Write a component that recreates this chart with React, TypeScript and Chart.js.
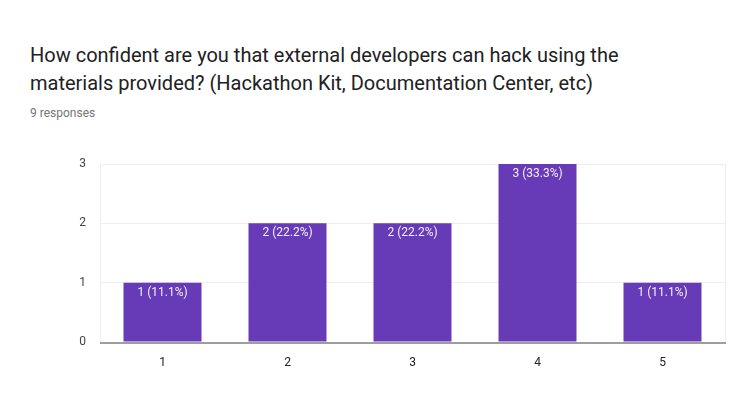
import React, { useEffect, useRef } from "react";
import { Chart, registerables } from "chart.js";

Chart.register(...registerables);

const categories = ["1", "2", "3", "4", "5"];
const counts = [1, 2, 2, 3, 1];
const percentLabels = ["11.1%", "22.2%", "22.2%", "33.3%", "11.1%"];
const yTicks = [0, 1, 2, 3];
const titleLines = [
  "How confident are you that external developers can hack using the",
  "materials provided? (Hackathon Kit, Documentation Center, etc)",
];
const subtitle = "9 responses";

const FONT = "Roboto, Arial, sans-serif";

const barLabelPlugin = {
  id: "barLabels",
  afterDatasetsDraw(chart: any) {
    const ctx = chart.ctx;
    const meta = chart.getDatasetMeta(0);
    ctx.save();
    ctx.fillStyle = "#f4f0fa";
    ctx.font = `12px ${FONT}`;
    ctx.textAlign = "center";
    ctx.textBaseline = "top";
    meta.data.forEach((bar: any, i: number) => {
      ctx.fillText(`${counts[i]} (${percentLabels[i]})`, bar.x, bar.y + 4);
    });
    ctx.restore();
  },
};

const framePlugin = {
  id: "frame",
  beforeDatasetsDraw(chart: any) {
    const { ctx, chartArea } = chart;
    ctx.save();
    ctx.strokeStyle = "#eeeeee";
    ctx.lineWidth = 1;
    ctx.beginPath();
    ctx.moveTo(chartArea.right + 0.5, chartArea.top);
    ctx.lineTo(chartArea.right + 0.5, chartArea.bottom);
    ctx.stroke();
    ctx.restore();
  },
  afterDatasetsDraw(chart: any) {
    const { ctx, chartArea } = chart;
    ctx.save();
    ctx.strokeStyle = "#9e9e9e";
    ctx.lineWidth = 2;
    ctx.beginPath();
    ctx.moveTo(chartArea.left, chartArea.bottom + 1);
    ctx.lineTo(chartArea.right + 1, chartArea.bottom + 1);
    ctx.stroke();
    ctx.restore();
  },
};

export default function App() {
  const ref = useRef<HTMLCanvasElement | null>(null);
  useEffect(() => {
    if (!ref.current) return;
    const chart = new Chart(ref.current, {
      type: "bar",
      data: {
        labels: categories,
        datasets: [
          {
            data: counts,
            backgroundColor: "#673ab7",
            barPercentage: 0.624,
            categoryPercentage: 1,
          },
        ],
      },
      options: {
        responsive: false,
        animation: false,
        layout: { padding: { top: 164, right: 30, bottom: 43, left: 0 } },
        plugins: {
          legend: { display: false },
          tooltip: { enabled: false },
          title: { display: false },
        },
        scales: {
          x: {
            grid: { display: false },
            border: { display: false },
            ticks: { color: "#222222", font: { family: FONT, size: 12 }, padding: 6 },
            afterFit: (s: any) => {
              s.height = 30;
            },
          },
          y: {
            min: 0,
            max: 3,
            afterBuildTicks: (s: any) => {
              s.ticks = yTicks.map((v) => ({ value: v }));
            },
            grid: { color: "#eeeeee", lineWidth: 1, drawTicks: false },
            border: { display: true, color: "#eeeeee" },
            ticks: { color: "#444444", font: { family: FONT, size: 12 }, padding: 14 },
            afterFit: (s: any) => {
              s.width = 100;
            },
          },
        },
      },
      plugins: [framePlugin, barLabelPlugin],
    });
    return () => chart.destroy();
  }, []);

  return (
    <div style={{ position: "fixed", left: 0, top: 0, width: 755, height: 415, background: "#fff", fontFamily: FONT }}>
      <div style={{ position: "absolute", left: 30, top: 41, fontSize: 20, lineHeight: "28px", color: "#212121" }}>
        {titleLines.map((l, i) => (
          <div key={i}>{l}</div>
        ))}
      </div>
      <div style={{ position: "absolute", left: 30, top: 105, fontSize: 12, lineHeight: "16px", color: "#757575" }}>
        {subtitle}
      </div>
      <canvas ref={ref} width={755} height={415} style={{ position: "absolute", left: 0, top: 0 }} />
    </div>
  );
}
